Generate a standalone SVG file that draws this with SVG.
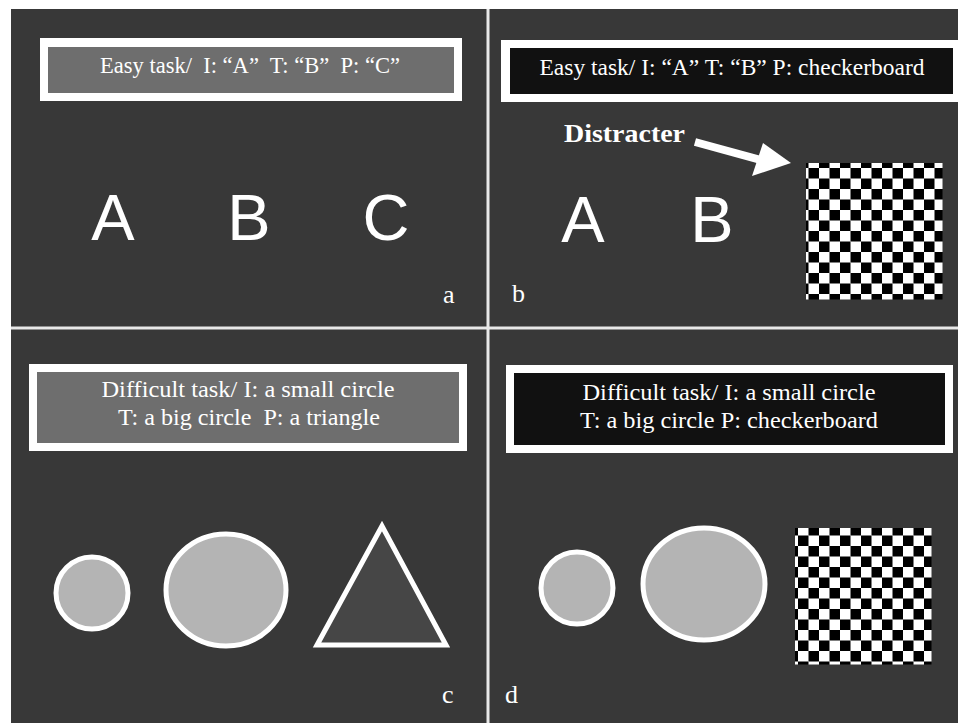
<svg xmlns="http://www.w3.org/2000/svg" width="958" height="725" viewBox="0 0 958 725">
  <defs>
    <pattern id="checker" patternUnits="userSpaceOnUse" width="21" height="21">
      <rect width="21" height="21" fill="#ffffff"/>
      <rect x="10.5" y="0" width="10.5" height="10.5" fill="#000000"/>
      <rect x="0" y="10.5" width="10.5" height="10.5" fill="#000000"/>
    </pattern>
    <style>
      .bg { fill: #383838; }
      .frame { fill: #ffffff; }
      .gray { fill: #6e6e6e; }
      .black { fill: #111111; }
      .title { font-family: "Liberation Serif", "DejaVu Serif", serif; font-size: 23px; fill: #ffffff; text-anchor: middle; white-space: pre; }
      .big { font-family: "Liberation Sans", Arial, sans-serif; font-size: 65px; fill: #ffffff; text-anchor: middle; }
      .lbl { font-family: "Liberation Serif", "DejaVu Serif", serif; font-size: 26px; fill: #ffffff; }
      .circ { fill: #b4b4b4; stroke: #ffffff; stroke-width: 5; }
      .tri { fill: #464646; stroke: #ffffff; stroke-width: 5; stroke-linejoin: miter; }
    </style>
  </defs>
  <rect width="958" height="725" fill="#ffffff"/>
  <rect class="bg" x="11" y="9" width="947" height="714"/>
  <g id="dividers">
    <line x1="488" y1="9" x2="488" y2="723" stroke="#e8e8e8" stroke-width="3"/>
    <line x1="11" y1="328" x2="958" y2="328" stroke="#e8e8e8" stroke-width="3"/>
  </g>

  <g id="panel-a">
    <rect class="frame" x="40" y="38" width="422" height="63"/>
    <rect class="gray" x="48" y="47" width="406" height="46"/>
    <text class="title" x="250" y="73" font-size="25" textLength="300" lengthAdjust="spacingAndGlyphs">Easy task/  I: “A”  T: “B”  P: “C”</text>
    <text class="big" x="113" y="240">A</text>
    <text class="big" x="249" y="240">B</text>
    <text class="big" x="386" y="240">C</text>
    <text class="lbl" x="443" y="303">a</text>
  </g>

  <g id="panel-b">
    <rect class="frame" x="501" y="40" width="457" height="62"/>
    <rect class="black" x="510" y="48" width="443" height="46"/>
    <text class="title" x="732" y="75" textLength="385" lengthAdjust="spacingAndGlyphs">Easy task/ I: “A” T: “B” P: checkerboard</text>
    <text x="564" y="142" font-family="Liberation Serif, DejaVu Serif, serif" font-size="26" font-weight="bold" fill="#ffffff" textLength="121" lengthAdjust="spacingAndGlyphs">Distracter</text>
    <text class="big" x="583" y="242">A</text>
    <text class="big" x="712" y="242">B</text>
    <rect x="806" y="163" width="136.5" height="136.5" fill="url(#checker)"/>
    <text class="lbl" x="512" y="302">b</text>
  </g>

  <g id="connectors">
    <line x1="695" y1="142" x2="768" y2="162" stroke="#ffffff" stroke-width="8"/>
    <polygon points="763,143 791,163 752,176" fill="#ffffff"/>
  </g>

  <g id="panel-c">
    <rect class="frame" x="29" y="364" width="438" height="87"/>
    <rect class="gray" x="37" y="372" width="422" height="71"/>
    <text class="title" x="248" y="397" textLength="293" lengthAdjust="spacingAndGlyphs">Difficult task/ I: a small circle</text>
    <text class="title" x="249" y="425" textLength="262" lengthAdjust="spacingAndGlyphs">T: a big circle  P: a triangle</text>
    <circle class="circ" cx="92" cy="593" r="36"/>
    <ellipse class="circ" cx="226" cy="590" rx="60" ry="56"/>
    <polygon class="tri" points="382,526 317,645 446,645"/>
    <text class="lbl" x="442" y="703">c</text>
  </g>

  <g id="panel-d">
    <rect class="frame" x="506" y="365" width="447" height="88"/>
    <rect class="black" x="514" y="373" width="431" height="72"/>
    <text class="title" x="729" y="400" textLength="293" lengthAdjust="spacingAndGlyphs">Difficult task/ I: a small circle</text>
    <text class="title" x="729" y="428" textLength="298" lengthAdjust="spacingAndGlyphs">T: a big circle P: checkerboard</text>
    <circle class="circ" cx="577" cy="588" r="36"/>
    <ellipse class="circ" cx="704" cy="584" rx="61" ry="56"/>
    <rect x="795" y="528" width="136.5" height="136.5" fill="url(#checker)"/>
    <text class="lbl" x="505" y="703">d</text>
  </g>
</svg>
